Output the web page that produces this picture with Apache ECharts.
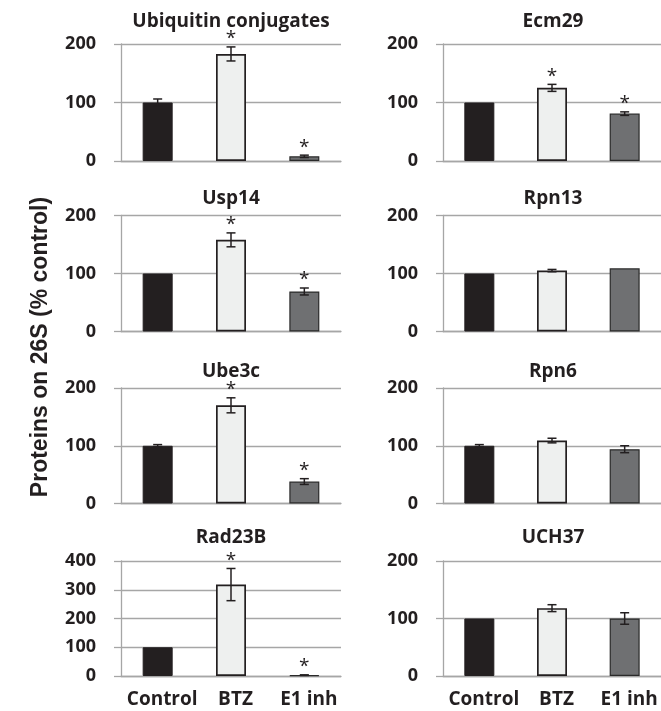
<!DOCTYPE html>
<html><head><meta charset="utf-8">
<script src="https://cdn.jsdelivr.net/npm/echarts@6/dist/echarts.min.js"></script>
<style>html,body{margin:0;padding:0;background:#fff}#c{width:661px;height:711px}</style>
</head><body><div id="c"></div>
<script>
const categories = ['Control', 'BTZ', 'E1 inh'];
const panelTitles = ['Ubiquitin conjugates', 'Ecm29', 'Usp14', 'Rpn13', 'Ube3c', 'Rpn6', 'Rad23B', 'UCH37'];

const ubiquitinMean = [100, 183, 8];
const ubiquitinErr = [6, 12, 2];
const ubiquitinSig = [0, 1, 1];

const ecm29Mean = [100, 125, 81];
const ecm29Err = [0, 6, 3];
const ecm29Sig = [0, 1, 1];

const usp14Mean = [100, 158, 69];
const usp14Err = [0, 12, 6];
const usp14Sig = [0, 1, 1];

const rpn13Mean = [100, 105, 109];
const rpn13Err = [0, 2, 0];
const rpn13Sig = [0, 0, 0];

const ube3cMean = [100, 170, 38];
const ube3cErr = [2, 13, 5];
const ube3cSig = [0, 1, 1];

const rpn6Mean = [100, 109, 94];
const rpn6Err = [2, 4, 6];
const rpn6Sig = [0, 0, 0];

const rad23bMean = [100, 318, 3];
const rad23bErr = [0, 56, 1];
const rad23bSig = [0, 1, 1];

const uch37Mean = [100, 118, 100];
const uch37Err = [0, 6, 10];
const uch37Sig = [0, 0, 0];

const yMaxes = [200, 200, 200, 200, 200, 200, 400, 200];
const yTickStep = 100;
const yAxisTitle = 'Proteins on 26S (% control)';

const means = [ubiquitinMean, ecm29Mean, usp14Mean, rpn13Mean, ube3cMean, rpn6Mean, rad23bMean, uch37Mean];
const errs = [ubiquitinErr, ecm29Err, usp14Err, rpn13Err, ube3cErr, rpn6Err, rad23bErr, uch37Err];
const sigs = [ubiquitinSig, ecm29Sig, usp14Sig, rpn13Sig, ube3cSig, rpn6Sig, rad23bSig, uch37Sig];

// layout
const colLeft = [121, 443];
const gridW = 220;
const rowTop = [44, 215.5, 388, 561];
const rowH = [117, 116, 115.5, 115];
const titleY = [22, 199, 371.5, 538];

const ink = '#231f20';
const gridGray = '#a6a6a6';
const font = 'Open Sans';
const barStyles = [
  { color: '#231f20', borderColor: '#231f20', borderWidth: 1 },
  { color: '#eef0ef', borderColor: '#231f20', borderWidth: 1.7 },
  { color: '#6f7072', borderColor: '#2a2a2a', borderWidth: 1.2 }
];

const grids = [], xAxes = [], yAxes = [], series = [], graphics = [];
for (let p = 0; p < 8; p++) {
  const r = Math.floor(p / 2), c = p % 2;
  grids.push({ left: colLeft[c], top: rowTop[r], width: gridW, height: rowH[r], containLabel: false });
  xAxes.push({
    type: 'category', gridIndex: p, data: categories,
    axisLine: { show: true, lineStyle: { color: gridGray, width: 1.3 } },
    axisTick: { show: false },
    axisLabel: { show: r === 3, interval: 0, fontFamily: font, fontWeight: 'bold', fontSize: 19, color: ink, margin: 14, padding: [0, 0, 0, 9] }
  });
  yAxes.push({
    type: 'value', gridIndex: p, min: 0, max: yMaxes[p], interval: yTickStep,
    axisLine: { show: true, lineStyle: { color: gridGray, width: 1.3 } },
    axisTick: { show: true, length: 7, lineStyle: { color: gridGray, width: 1.3 } },
    splitLine: { show: true, lineStyle: { color: gridGray, width: 1.3 } },
    axisLabel: { fontFamily: font, fontWeight: 'bold', fontSize: 18, color: ink, margin: 25 }
  });
  series.push({
    type: 'bar', xAxisIndex: p, yAxisIndex: p, barWidth: 30, silent: true,
    data: means[p].map((v, i) => ({ value: v, itemStyle: barStyles[i] })),
    z: 2
  });
  series.push({
    type: 'custom', xAxisIndex: p, yAxisIndex: p, silent: true, z: 5,
    data: means[p].map((v, i) => [i, v, errs[p][i], sigs[p][i]]),
    renderItem: function (params, api) {
      const xi = api.value(0), m = api.value(1), e = api.value(2), s = api.value(3);
      const top = api.coord([xi, m + e]);
      const bot = api.coord([xi, m - e]);
      const cap = 4.5;
      const ls = { stroke: ink, lineWidth: 1.5 };
      const children = [];
      if (e > 0) {
        children.push({ type: 'line', shape: { x1: top[0], y1: top[1], x2: bot[0], y2: bot[1] }, style: ls });
        children.push({ type: 'line', shape: { x1: top[0] - cap, y1: top[1], x2: top[0] + cap, y2: top[1] }, style: ls });
        children.push({ type: 'line', shape: { x1: bot[0] - cap, y1: bot[1], x2: bot[0] + cap, y2: bot[1] }, style: ls });
      }
      if (s) {
        children.push({ type: 'text', style: { text: '*', x: top[0], y: top[1] - 8, align: 'center', verticalAlign: 'middle', fontFamily: font, fontSize: 19, fontWeight: 'normal', fill: ink } });
      }
      return { type: 'group', children: children };
    }
  });
  graphics.push({
    type: 'text', x: colLeft[c] + gridW / 2, y: titleY[r], silent: true,
    style: { text: panelTitles[p], textAlign: 'center', textVerticalAlign: 'middle', fontFamily: font, fontWeight: 'bold', fontSize: 19, fill: ink }
  });
}
graphics.push({
  type: 'text', x: 41, y: 347, rotation: Math.PI / 2, silent: true,
  style: { text: yAxisTitle, textAlign: 'center', textVerticalAlign: 'middle', fontFamily: 'Liberation Sans', fontWeight: 'bold', fontSize: 23, fill: ink }
});

const chart = echarts.init(document.getElementById('c'), null, { renderer: 'canvas' });
chart.setOption({
  animation: false,
  backgroundColor: '#fff',
  grid: grids, xAxis: xAxes, yAxis: yAxes, series: series, graphic: graphics
});
</script></body></html>
